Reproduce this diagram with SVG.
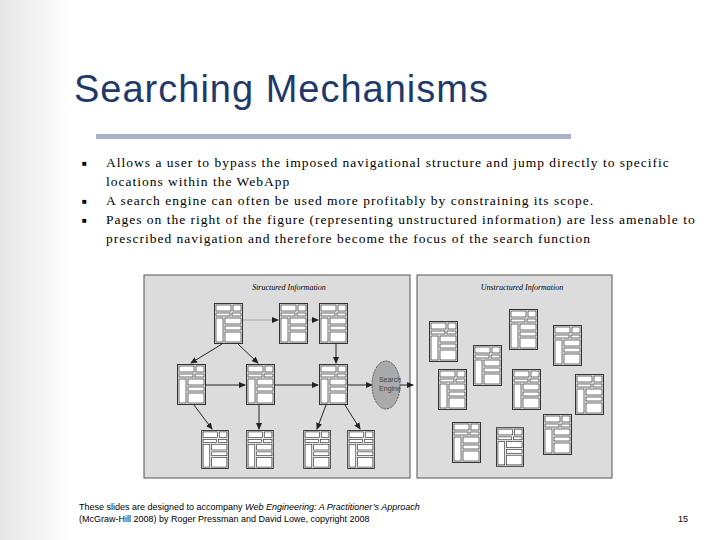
<svg xmlns="http://www.w3.org/2000/svg" xmlns:xlink="http://www.w3.org/1999/xlink" width="720" height="540" viewBox="0 0 720 540">
<defs>
<style>
.t{font-family:"Liberation Serif",serif;font-size:13.5px;fill:#000;letter-spacing:1px}
.f{font-family:"Liberation Sans",sans-serif;font-size:9px;fill:#000}
.c{stroke:#222;stroke-width:1;fill:none}
</style>
<linearGradient id="bg" x1="0" x2="1"><stop offset="0" stop-color="#e6e6e6"/><stop offset="0.1" stop-color="#fff"/></linearGradient>
<marker id="a" markerWidth="7" markerHeight="7" refX="6" refY="3.5" orient="auto"><path d="M0,0.5 L7,3.5 L0,6.5z" fill="#222"/></marker>
<symbol id="pg" viewBox="0 0 29 41">
<rect x="0.5" y="0.5" width="28" height="40" fill="#eee" stroke="#333"/>
<rect x="2" y="2" width="15" height="6" fill="#fff" stroke="#333" stroke-width="0.7"/>
<rect x="19" y="2" width="8" height="6" fill="#fff" stroke="#333" stroke-width="0.7"/>
<rect x="2" y="10" width="14" height="3" fill="#fff" stroke="#333" stroke-width="0.7"/>
<rect x="18" y="10" width="9" height="3" fill="#fff" stroke="#333" stroke-width="0.7"/>
<rect x="2" y="15" width="7" height="24" fill="#fff" stroke="#333" stroke-width="0.7"/>
<rect x="11" y="15" width="16" height="6" fill="#fff" stroke="#333" stroke-width="0.7"/>
<rect x="11" y="23" width="16" height="4" fill="#fff" stroke="#333" stroke-width="0.7"/>
<rect x="11" y="29" width="16" height="10" fill="#fff" stroke="#333" stroke-width="0.7"/>
</symbol>
</defs>
<rect width="720" height="540" fill="url(#bg)"/>
<text x="74" y="102" style="font-family:'Liberation Sans',sans-serif;font-size:38px;letter-spacing:1px;fill:#1f3a6a">Searching Mechanisms</text>
<rect x="96" y="134" width="475" height="5" fill="#a7b3c9"/>
<g class="t">
<text x="82" y="166" style="font-size:8px">■</text><text x="82" y="204" style="font-size:8px">■</text><text x="82" y="223" style="font-size:8px">■</text>
<text x="106" y="167">Allows a user to bypass the imposed navigational structure and jump directly to specific</text>
<text x="106" y="186">locations within the WebApp</text>
<text x="106" y="205">A search engine can often be used more profitably by constraining its scope.</text>
<text x="106" y="224">Pages on the right of the figure (representing unstructured information) are less amenable to</text>
<text x="106" y="243">prescribed navigation and therefore become the focus of the search function</text>
</g>
<g id="structured">
<rect x="144" y="275" width="266" height="203" fill="#dcdcdc" stroke="#555"/>
<text x="289" y="290" text-anchor="middle" style="font-family:'Liberation Serif',serif;font-style:italic;font-size:8px">Structured Information</text>
</g>
<g id="unstructured">
<rect x="417" y="275" width="195" height="203" fill="#dcdcdc" stroke="#555"/>
<text x="522" y="290" text-anchor="middle" style="font-family:'Liberation Serif',serif;font-style:italic;font-size:8px">Unstructured Information</text>
</g>
<g id="connectors" class="c" marker-end="url(#a)">
<line x1="243" y1="320" x2="278" y2="320" stroke="#aaa"/>
<line x1="307" y1="320" x2="318" y2="320" stroke="#aaa"/>
<line x1="222" y1="344" x2="191" y2="363"/>
<line x1="238" y1="344" x2="258" y2="363"/>
<line x1="336" y1="344" x2="336" y2="363"/>
<line x1="206" y1="385" x2="245" y2="385"/>
<line x1="275" y1="385" x2="318" y2="385"/>
<line x1="348" y1="385" x2="372" y2="385"/>
<line x1="400" y1="385" x2="413" y2="385"/>
<line x1="194" y1="405" x2="212" y2="429"/>
<line x1="259" y1="405" x2="259" y2="429"/>
<line x1="326" y1="405" x2="317" y2="429"/>
<line x1="345" y1="405" x2="360" y2="429"/>
</g>
<g id="search-engine">
<ellipse cx="386" cy="385" rx="14" ry="24" fill="#aaa" stroke="#555" stroke-dasharray="2,1"/>
<text x="390" y="382" text-anchor="middle" style="font-family:'Liberation Sans',sans-serif;font-size:7px;fill:#444">Search</text>
<text x="390" y="391" text-anchor="middle" style="font-family:'Liberation Sans',sans-serif;font-size:7px;fill:#444">Engine</text>
</g>
<g id="pages-s">
<use xlink:href="#pg" x="214" y="303" width="29" height="41"/>
<use xlink:href="#pg" x="279" y="303" width="29" height="41"/>
<use xlink:href="#pg" x="319" y="303" width="29" height="41"/>
<use xlink:href="#pg" x="177" y="364" width="29" height="41"/>
<use xlink:href="#pg" x="246" y="364" width="29" height="41"/>
<use xlink:href="#pg" x="319" y="364" width="29" height="41"/>
<use xlink:href="#pg" x="201" y="430" width="28" height="39"/>
<use xlink:href="#pg" x="246" y="430" width="28" height="39"/>
<use xlink:href="#pg" x="303" y="430" width="28" height="39"/>
<use xlink:href="#pg" x="347" y="430" width="28" height="39"/>
</g>
<g id="pages-u">
<use xlink:href="#pg" x="429" y="321" width="29" height="41"/>
<use xlink:href="#pg" x="509" y="309" width="29" height="41"/>
<use xlink:href="#pg" x="553" y="325" width="29" height="41"/>
<use xlink:href="#pg" x="473" y="345" width="29" height="41"/>
<use xlink:href="#pg" x="438" y="369" width="29" height="41"/>
<use xlink:href="#pg" x="512" y="369" width="29" height="41"/>
<use xlink:href="#pg" x="575" y="374" width="29" height="41"/>
<use xlink:href="#pg" x="452" y="422" width="29" height="41"/>
<use xlink:href="#pg" x="496" y="427" width="28" height="40"/>
<use xlink:href="#pg" x="543" y="414" width="29" height="41"/>
</g>
<text class="f" x="79" y="510">These slides are designed to accompany <tspan font-style="italic">Web Engineering: A Practitioner’s Approach</tspan></text>
<text class="f" x="79" y="522">(McGraw-Hill 2008) by Roger Pressman and David Lowe, copyright 2008</text>
<text class="f" x="678" y="522">15</text>
</svg>
